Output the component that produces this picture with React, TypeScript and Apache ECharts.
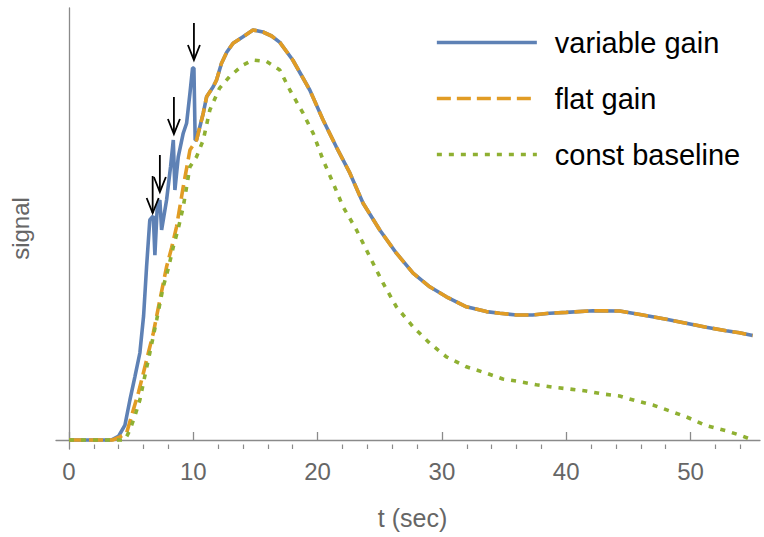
import React, { useEffect, useRef } from "react";
import * as echarts from "echarts";

// t (sec), signal (arbitrary units)
const variableGain: [number, number][] = [
  [0, 0], [3.4, 0], [4.0, 0.01], [4.5, 0.037], [4.9, 0.1], [5.3, 0.158], [5.7, 0.2175],
  [6.0, 0.31], [6.24, 0.433], [6.5, 0.55], [6.78, 0.56], [6.91, 0.462], [7.1, 0.583],
  [7.31, 0.6], [7.45, 0.525], [7.85, 0.6], [8.17, 0.683], [8.39, 0.75], [8.52, 0.625],
  [8.79, 0.708], [9.19, 0.767], [9.46, 0.792], [9.73, 0.867], [9.94, 0.93], [10.05, 0.93],
  [10.15, 0.75], [10.26, 0.75], [10.8, 0.817], [11.07, 0.858], [11.6, 0.883], [11.87, 0.9],
  [12.27, 0.942], [12.7, 0.97], [13.2, 0.992], [14.0, 1.008], [14.8, 1.025], [15.6, 1.02],
  [16.3, 1.01], [16.96, 0.994], [18.0, 0.95], [19.37, 0.875], [20.44, 0.8], [21.5, 0.733],
  [22.6, 0.667], [23.66, 0.592], [25.0, 0.525], [26.34, 0.467], [27.68, 0.417], [29.02, 0.383],
  [30.36, 0.358], [31.97, 0.333], [33.58, 0.321], [34.65, 0.317], [35.99, 0.3125], [37.3, 0.3125],
  [38.67, 0.317], [40.0, 0.319], [42.15, 0.323], [44.3, 0.3225], [46.17, 0.3125], [48.05, 0.302],
  [49.65, 0.292], [51.26, 0.282], [52.87, 0.273], [53.94, 0.268], [55.0, 0.261],
];

const flatGain: [number, number][] = [
  [0, 0], [3.5, 0], [4.1, 0.008], [4.63, 0.017], [5.17, 0.075], [5.6, 0.12], [5.98, 0.167],
  [6.4, 0.22], [6.78, 0.267], [7.31, 0.35], [7.85, 0.433], [8.25, 0.48], [8.65, 0.533],
  [9.19, 0.633], [9.73, 0.725], [10.26, 0.75], [10.8, 0.817], [11.07, 0.858], [11.6, 0.883],
  [11.87, 0.9], [12.27, 0.942], [12.7, 0.97], [13.2, 0.992], [14.0, 1.008], [14.8, 1.025],
  [15.6, 1.02], [16.3, 1.01], [16.96, 0.994], [18.0, 0.95], [19.37, 0.875], [20.44, 0.8],
  [21.5, 0.733], [22.6, 0.667], [23.66, 0.592], [25.0, 0.525], [26.34, 0.467], [27.68, 0.417],
  [29.02, 0.383], [30.36, 0.358], [31.97, 0.333], [33.58, 0.321], [34.65, 0.317], [35.99, 0.3125],
  [37.3, 0.3125], [38.67, 0.317], [40.0, 0.319], [42.15, 0.323], [44.3, 0.3225], [46.17, 0.3125],
  [48.05, 0.302], [49.65, 0.292], [51.26, 0.282], [52.87, 0.273], [53.94, 0.268], [55.0, 0.261],
];

const constBaseline: [number, number][] = [
  [0, 0], [4.5, 0], [4.9, 0.025], [5.3, 0.06], [5.7, 0.1], [6.1, 0.16], [6.5, 0.2175],
  [7.05, 0.3], [7.58, 0.383], [8.0, 0.43], [8.39, 0.483], [8.8, 0.53], [9.19, 0.583],
  [9.5, 0.64], [9.73, 0.683], [10.26, 0.708], [10.8, 0.75], [11.33, 0.825], [12.1, 0.879],
  [12.9, 0.908], [14.0, 0.9375], [14.8, 0.95], [15.9, 0.946], [16.96, 0.925], [17.77, 0.875],
  [18.83, 0.817], [19.64, 0.767], [20.44, 0.7], [21.25, 0.642], [22.05, 0.583], [23.13, 0.525],
  [24.2, 0.458], [25.27, 0.392], [26.34, 0.333], [27.68, 0.283], [29.02, 0.242], [30.36, 0.208],
  [31.97, 0.183], [33.58, 0.167], [34.9, 0.1525], [36.25, 0.146], [37.6, 0.138], [38.93, 0.132],
  [40.27, 0.1275], [41.6, 0.1225], [42.95, 0.115], [44.3, 0.11], [45.6, 0.098], [46.97, 0.0875],
  [48.3, 0.073], [49.65, 0.058], [51.26, 0.036], [52.87, 0.023], [53.94, 0.0125], [55, 0.0],
];

// arrow tips (t, signal)
const arrowTips: [number, number][] = [
  [6.73, 0.5675], [7.31, 0.62], [8.44, 0.765], [10.05, 0.95],
];

const seriesNames = ["variable gain", "flat gain", "const baseline"];
const majorTicks = [0, 10, 20, 30, 40, 50];
const minorTicks = [2, 4, 6, 8, 12, 14, 16, 18, 22, 24, 26, 28, 32, 34, 36, 38, 42, 44, 46, 48, 52, 54];

const FONT = "Liberation Sans, Arial, sans-serif";
const AXIS_COLOR = "#8a8a8a";
const LABEL_COLOR = "#666666";

export default function App() {
  const ref = useRef<HTMLDivElement>(null);
  useEffect(() => {
    if (!ref.current) return;
    const chart = echarts.init(ref.current, null, { renderer: "svg" });
    const xMin = -1.046;
    const xMax = 55.59;
    const baseX = {
      type: "value",
      min: xMin,
      max: xMax,
      splitLine: { show: false },
    };
    chart.setOption({
      animation: false,
      backgroundColor: "#ffffff",
      grid: { left: 56, right: 4, top: 8, bottom: 88, containLabel: false },
      legend: {
        data: seriesNames,
        orient: "vertical",
        left: 430,
        top: 23,
        itemWidth: 100,
        itemHeight: 14,
        itemGap: 27,
        lineStyle: { width: 3.7 },
        itemStyle: { opacity: 0 },
        textStyle: { fontSize: 29, color: "#000", fontFamily: FONT, padding: [0, 0, 0, 13] },
      },
      xAxis: [
        {
          ...baseX,
          name: "t (sec)",
          nameLocation: "middle",
          nameGap: 56,
          nameTextStyle: { fontSize: 25, color: LABEL_COLOR, fontFamily: FONT, padding: [0, 0, 0, 9] },
          axisLine: { show: true, lineStyle: { color: AXIS_COLOR, width: 1.3 } },
          axisTick: {
            show: true,
            inside: true,
            length: 8,
            customValues: majorTicks,
            lineStyle: { color: AXIS_COLOR, width: 1.3 },
          },
          axisLabel: {
            show: true,
            customValues: majorTicks,
            fontSize: 24,
            color: LABEL_COLOR,
            fontFamily: FONT,
            margin: 10,
          },
        },
        {
          ...baseX,
          position: "bottom",
          axisLine: { show: false },
          axisTick: {
            show: true,
            inside: true,
            length: 4.5,
            customValues: minorTicks,
            lineStyle: { color: AXIS_COLOR, width: 1.2 },
          },
          axisLabel: { show: false },
        },
      ],
      yAxis: {
        type: "value",
        min: -0.0225,
        max: 1.08,
        name: "signal",
        nameLocation: "middle",
        nameGap: 24,
        nameTextStyle: { fontSize: 24, color: LABEL_COLOR, fontFamily: FONT },
        axisLine: { show: true, lineStyle: { color: AXIS_COLOR, width: 1.3 } },
        axisTick: { show: false },
        axisLabel: { show: false },
        splitLine: { show: false },
      },
      series: [
        {
          name: seriesNames[0],
          type: "line",
          data: variableGain,
          symbol: "none",
          lineStyle: { color: "#5E81B5", width: 3.6 },
          itemStyle: { color: "#5E81B5" },
        },
        {
          name: seriesNames[1],
          type: "line",
          data: flatGain,
          symbol: "none",
          lineStyle: { color: "#E19C24", width: 3.6, type: [14, 6] },
          itemStyle: { color: "#E19C24" },
        },
        {
          name: seriesNames[2],
          type: "line",
          data: constBaseline,
          symbol: "none",
          lineStyle: { color: "#8FB032", width: 3.6, type: [5, 7] },
          itemStyle: { color: "#8FB032" },
        },
        {
          name: "arrows",
          type: "custom",
          coordinateSystem: "cartesian2d",
          data: arrowTips,
          renderItem: (params: any, api: any) => {
            const p = api.coord([api.value(0), api.value(1)]);
            const style = { stroke: "#000", lineWidth: 1.8, fill: "none" };
            return {
              type: "group",
              children: [
                { type: "line", shape: { x1: p[0], y1: p[1] - 37, x2: p[0], y2: p[1] }, style },
                {
                  type: "polyline",
                  shape: { points: [[p[0] - 6, p[1] - 15], [p[0], p[1]], [p[0] + 6, p[1] - 15]] },
                  style,
                },
              ],
            };
          },
          z: 10,
        },
      ],
    });
    return () => chart.dispose();
  }, []);
  return (
    <div
      ref={ref}
      style={{ position: "fixed", left: 0, top: 0, width: 764, height: 537, background: "#fff" }}
    />
  );
}
